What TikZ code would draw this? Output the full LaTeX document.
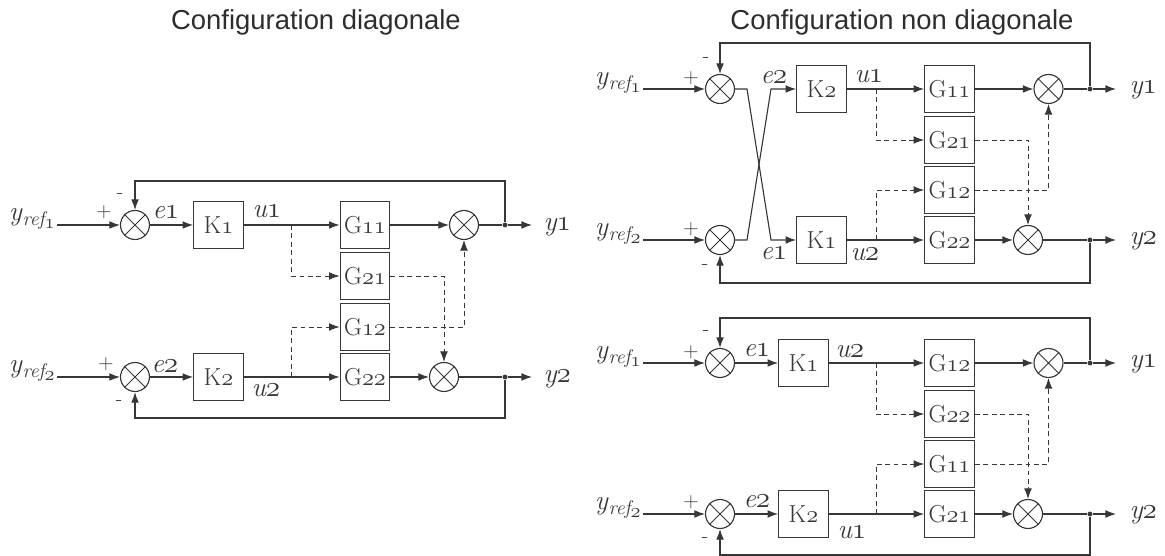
\documentclass[tikz,border=0pt]{standalone}
\usepackage{fontspec}
\usepackage{tikz}
\usetikzlibrary{arrows.meta}
\newfontfamily\titlefont{Liberation Sans}
\definecolor{ngray}{RGB}{55,55,55}
\definecolor{ntitle}{RGB}{45,45,45}
\newcommand{\os}[1]{{\usefont{OML}{lmm}{m}{it}#1}}
\newcommand{\yref}[1]{y\kern0.5pt\raisebox{-3.5pt}{\fontsize{14}{14}\selectfont ref\raisebox{-1.5pt}{\os{#1}}}}

\tikzset{
  block/.style={draw, minimum width=35.3pt, minimum height=33pt, inner sep=0pt, font=\fontsize{17.5}{19}\selectfont},
  summ/.style={draw, circle, minimum size=20.6pt, inner sep=0pt},
  junc/.style={circle, fill, minimum size=3.5pt, inner sep=0pt},
  lab/.style={inner sep=0pt, font=\fontsize{19.5}{20}\selectfont\itshape},
  sgn/.style={inner sep=0pt, font=\fontsize{15}{15}\selectfont},
  ttl/.style={font=\titlefont\fontsize{19.5}{21}\selectfont, text=ntitle},
  coup/.style={line width=0.6pt, dash pattern=on 3.5pt off 2.5pt},
}

\begin{document}
\begin{tikzpicture}[x=0.025cm, y=-0.025cm, line width=0.8pt, color=ngray, >={Latex[length=7.5pt,width=5.5pt]}]
    \useasboundingbox (0,0) rectangle (1165,556);

    % configuration diagonale
    \node[ttl] (t1) at (316,22) {Configuration diagonale};
    \node[summ] (Ls1) at (135,225) {};
    \node[summ] (Ls2) at (135,377) {};
    \node[block] (LK1) at (218.5,225) {K\os{1}};
    \node[block] (LK2) at (218.5,377) {K\os{2}};
    \node[block] (LG11) at (365,225) {G\os{11}};
    \node[block] (LG21) at (365,276) {G\os{21}};
    \node[block] (LG12) at (365,327) {G\os{12}};
    \node[block] (LG22) at (365,377) {G\os{22}};
    \node[summ] (Lo1) at (464,225) {};
    \node[summ] (Lo2) at (444,377) {};
    \node[junc] (Ld1) at (505,225) {};
    \node[junc] (Ld2) at (505,377) {};
    \coordinate (Li1) at (57,225);
    \coordinate (Li2) at (57,377);
    \coordinate (Le1) at (532,225);
    \coordinate (Le2) at (532,377);
    \coordinate (Lb1) at (291.5,225);
    \coordinate (Lb2) at (291.5,377);

    \node[lab, anchor=base east] (Lyr1) at (55,221) {\yref{1}};
    \node[lab, anchor=base east] (Lyr2) at (55,373) {\yref{2}};
    \node[lab, anchor=base west] (Le1l) at (152,219) {e\os{1}};
    \node[lab, anchor=base west] (Lu1l) at (252,218) {u\os{1}};
    \node[lab, anchor=base west] (Le2l) at (151,373) {e\os{2}};
    \node[lab, anchor=base west] (Lu2l) at (251,397) {u\os{2}};
    \node[lab, anchor=base west] (Ly1l) at (543,231) {y\os{1}};
    \node[lab, anchor=base west] (Ly2l) at (543,383) {y\os{2}};
    \node[sgn] (Lp1) at (104,212) {+};
    \node[sgn] (Lm1) at (120,196) {-};
    \node[sgn] (Lp2) at (106,364) {+};
    \node[sgn] (Lm2) at (119,403) {-};

    \draw[->] (Li1) -- (Ls1);
    \draw[->] (Li2) -- (Ls2);
    \draw[->] (Ls1) -- (LK1);
    \draw[->] (Ls2) -- (LK2);
    \draw[->] (LK1) -- (LG11);
    \draw[->] (LK2) -- (LG22);
    \draw[->] (LG11) -- (Lo1);
    \draw[->] (LG22) -- (Lo2);
    \draw[->] (Lo1) -- (Ld1) -- (Le1);
    \draw[->] (Lo2) -- (Ld2) -- (Le2);
    \draw[->] (Ld1) -- ++(0,-44) -| (Ls1);
    \draw[->] (Ld2) -- ++(0,41) -| (Ls2);
    \draw[coup,->] (Lb1) |- (LG21);
    \draw[coup,->] (Lb2) |- (LG12);
    \draw[coup,->] (LG21) -| (Lo2);
    \draw[coup,->] (LG12) -| (Lo1);

    % configuration non diagonale
    \node[ttl] (t2) at (902,22) {Configuration non diagonale};
    \node[summ] (As1) at (720,89) {};
    \node[summ] (As2) at (720,240) {};
    \node[block] (AK2) at (821.5,89) {K\os{2}};
    \node[block] (AK1) at (821.5,240) {K\os{1}};
    \node[block] (AG11) at (949.5,89) {G\os{11}};
    \node[block] (AG21) at (949.5,140) {G\os{21}};
    \node[block] (AG12) at (949.5,190) {G\os{12}};
    \node[block] (AG22) at (949.5,240) {G\os{22}};
    \node[summ] (Ao1) at (1048.5,89) {};
    \node[summ] (Ao2) at (1028,240) {};
    \node[junc] (Ad1) at (1090,89) {};
    \node[junc] (Ad2) at (1090,240) {};
    \coordinate (Ai1) at (643,89);
    \coordinate (Ai2) at (643,240);
    \coordinate (Ae1) at (1116,89);
    \coordinate (Ae2) at (1116,240);
    \coordinate (Ab1) at (876,89);
    \coordinate (Ab2) at (876,240);
    \coordinate (Ac1) at (747,89);
    \coordinate (Ac2) at (747,240);
    \coordinate (Ac3) at (771,240);
    \coordinate (Ac4) at (771,89);

    \node[lab, anchor=base east] (Ayr1) at (641,85) {\yref{1}};
    \node[lab, anchor=base east] (Ayr2) at (641,236) {\yref{2}};
    \node[lab, anchor=base west] (Ae2l) at (760,84) {e\os{2}};
    \node[lab, anchor=base west] (Au1l) at (854,83) {u\os{1}};
    \node[lab, anchor=base west] (Ae1l) at (760,260) {e\os{1}};
    \node[lab, anchor=base west] (Au2l) at (850,261) {u\os{2}};
    \node[lab, anchor=base west] (Ay1l) at (1129,94) {y\os{1}};
    \node[lab, anchor=base west] (Ay2l) at (1129,245) {y\os{2}};
    \node[sgn] (Ap1) at (691,78) {+};
    \node[sgn] (Am1) at (706,60) {-};
    \node[sgn] (Ap2) at (691,229) {+};
    \node[sgn] (Am2) at (705,267) {-};

    \draw[->] (Ai1) -- (As1);
    \draw[->] (Ai2) -- (As2);
    \draw[->] (As1) -- (Ac1) -- (Ac3) -- (AK1);
    \draw[->] (As2) -- (Ac2) -- (Ac4) -- (AK2);
    \draw[->] (AK2) -- (AG11);
    \draw[->] (AK1) -- (AG22);
    \draw[->] (AG11) -- (Ao1);
    \draw[->] (AG22) -- (Ao2);
    \draw[->] (Ao1) -- (Ad1) -- (Ae1);
    \draw[->] (Ao2) -- (Ad2) -- (Ae2);
    \draw[->] (Ad1) -- ++(0,-46) -| (As1);
    \draw[->] (Ad2) -- ++(0,43) -| (As2);
    \draw[coup,->] (Ab1) |- (AG21);
    \draw[coup,->] (Ab2) |- (AG12);
    \draw[coup,->] (AG21) -| (Ao2);
    \draw[coup,->] (AG12) -| (Ao1);

    \node[summ] (Bs1) at (720,363) {};
    \node[summ] (Bs2) at (720,514) {};
    \node[block] (BK1) at (803.5,363) {K\os{1}};
    \node[block] (BK2) at (803.5,514) {K\os{2}};
    \node[block] (BG12) at (949.5,363) {G\os{12}};
    \node[block] (BG22) at (949.5,414) {G\os{22}};
    \node[block] (BG11) at (949.5,464) {G\os{11}};
    \node[block] (BG21) at (949.5,514) {G\os{21}};
    \node[summ] (Bo1) at (1048.5,363) {};
    \node[summ] (Bo2) at (1028,514) {};
    \node[junc] (Bd1) at (1090,363) {};
    \node[junc] (Bd2) at (1090,514) {};
    \coordinate (Bi1) at (643,363);
    \coordinate (Bi2) at (643,514);
    \coordinate (Be1) at (1116,363);
    \coordinate (Be2) at (1116,514);
    \coordinate (Bb1) at (876,363);
    \coordinate (Bb2) at (876,514);

    \node[lab, anchor=base east] (Byr1) at (641,359) {\yref{1}};
    \node[lab, anchor=base east] (Byr2) at (641,510) {\yref{2}};
    \node[lab, anchor=base west] (Be1l) at (743,357) {e\os{1}};
    \node[lab, anchor=base west] (Bu2l) at (835,358) {u\os{2}};
    \node[lab, anchor=base west] (Be2l) at (743,508) {e\os{2}};
    \node[lab, anchor=base west] (Bu1l) at (837,538) {u\os{1}};
    \node[lab, anchor=base west] (By1l) at (1129,368) {y\os{1}};
    \node[lab, anchor=base west] (By2l) at (1129,519) {y\os{2}};
    \node[sgn] (Bp1) at (691,352) {+};
    \node[sgn] (Bm1) at (706,333) {-};
    \node[sgn] (Bp2) at (691,502) {+};
    \node[sgn] (Bm2) at (705,540) {-};

    \draw[->] (Bi1) -- (Bs1);
    \draw[->] (Bi2) -- (Bs2);
    \draw[->] (Bs1) -- (BK1);
    \draw[->] (Bs2) -- (BK2);
    \draw[->] (BK1) -- (BG12);
    \draw[->] (BK2) -- (BG21);
    \draw[->] (BG12) -- (Bo1);
    \draw[->] (BG21) -- (Bo2);
    \draw[->] (Bo1) -- (Bd1) -- (Be1);
    \draw[->] (Bo2) -- (Bd2) -- (Be2);
    \draw[->] (Bd1) -- ++(0,-45) -| (Bs1);
    \draw[->] (Bd2) -- ++(0,41) -| (Bs2);
    \draw[coup,->] (Bb1) |- (BG22);
    \draw[coup,->] (Bb2) |- (BG11);
    \draw[coup,->] (BG22) -| (Bo2);
    \draw[coup,->] (BG11) -| (Bo1);

    \foreach \s in {Ls1,Ls2,Lo1,Lo2,As1,As2,Ao1,Ao2,Bs1,Bs2,Bo1,Bo2}
        \draw[line width=0.6pt] (\s.45) -- (\s.225) (\s.135) -- (\s.315);
\end{tikzpicture}
\end{document}
